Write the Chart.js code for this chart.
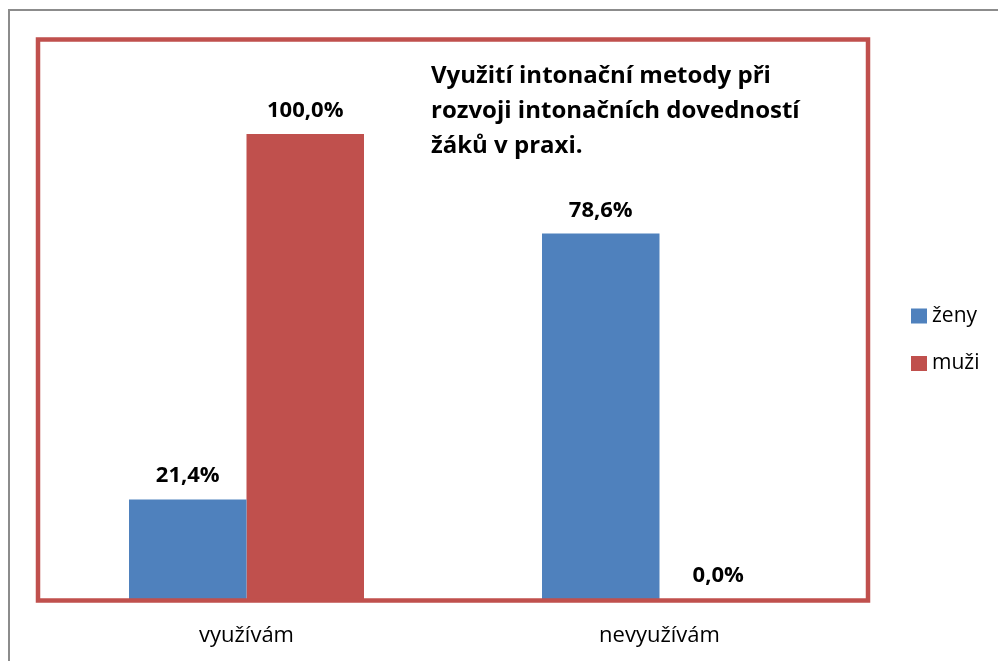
<!DOCTYPE html>
<html>
<head>
<meta charset="utf-8">
<script src="https://cdn.jsdelivr.net/npm/chart.js@4"></script>
<style>
html,body{margin:0;padding:0;background:#fff;}
#wrap{position:relative;width:998px;height:661px;overflow:hidden;}
#frame{position:absolute;left:8px;top:9px;width:1000px;height:700px;border-left:2px solid #8c8c8c;border-top:2px solid #8c8c8c;box-sizing:border-box;}
canvas{position:absolute;left:0;top:0;}
</style>
</head>
<body>
<div id="wrap"><div id="frame"></div><canvas id="c" width="998" height="661"></canvas></div>
<script>
const categories = ["využívám", "nevyužívám"];
const seriesNames = ["ženy", "muži"];
const zeny = [21.4, 78.6];
const muzi = [100.0, 0.0];
const titleLines = ["Využití intonační metody při", "rozvoji intonačních dovedností", "žáků v praxi."];

const FONT = "'Open Sans', 'Noto Sans', sans-serif";
const BLUE = "#4F81BD", RED = "#C0504D";

const decor = {
  id: "decor",
  afterDatasetsDraw(chart) {
    const ctx = chart.ctx, a = chart.chartArea;
    ctx.save();
    // axis lines (gray)
    ctx.strokeStyle = "#868686"; ctx.lineWidth = 1.5;
    ctx.beginPath(); ctx.moveTo(a.left - 1, a.top); ctx.lineTo(a.left - 1, a.bottom + 1); ctx.lineTo(a.right, a.bottom + 1); ctx.stroke();
    // red plot-area border
    ctx.strokeStyle = RED; ctx.lineWidth = 4.5;
    ctx.strokeRect(a.left - 2, a.top - 1.5, a.right - a.left + 4, a.bottom - a.top + 3);
    // data labels
    ctx.fillStyle = "#000"; ctx.font = "bold 22px " + FONT; ctx.textAlign = "center"; ctx.textBaseline = "alphabetic";
    chart.data.datasets.forEach((ds, i) => {
      chart.getDatasetMeta(i).data.forEach((bar, j) => {
        ctx.fillText(ds.data[j].toFixed(1).replace(".", ",") + "%", bar.x, bar.y - 17);
      });
    });
    // title inside plot area
    ctx.textAlign = "left"; ctx.font = "bold 24px " + FONT;
    titleLines.forEach((t, k) => ctx.fillText(t, 431, 83 + k * 35));
    // legend
    ctx.font = "21px " + FONT; ctx.textBaseline = "middle";
    chart.data.datasets.forEach((ds, i) => {
      const y = 316 + i * 47.5;
      ctx.fillStyle = ds.backgroundColor; ctx.fillRect(911, y - 7.5, 16, 15);
      ctx.fillStyle = "#000"; ctx.fillText(ds.label, 932, y);
    });
    ctx.restore();
  }
};

new Chart(document.getElementById("c"), {
  type: "bar",
  data: {
    labels: categories,
    datasets: [
      { label: seriesNames[0], data: zeny, backgroundColor: BLUE },
      { label: seriesNames[1], data: muzi, backgroundColor: RED }
    ]
  },
  options: {
    responsive: false,
    animation: false,
    devicePixelRatio: 1,
    layout: { padding: { left: 40, top: 41, right: 132, bottom: 0 } },
    plugins: { legend: { display: false }, title: { display: false }, tooltip: { enabled: false } },
    datasets: { bar: { categoryPercentage: 0.569, barPercentage: 1.0 } },
    scales: {
      x: {
        grid: { display: false, drawTicks: false },
        border: { display: false },
        ticks: { color: "#000", font: { family: FONT, size: 22 }, padding: 24 },
        afterFit(s) { s.height = 62; }
      },
      y: {
        display: false,
        min: 0, max: 120
      }
    }
  },
  plugins: [decor]
});
</script>
</body>
</html>
